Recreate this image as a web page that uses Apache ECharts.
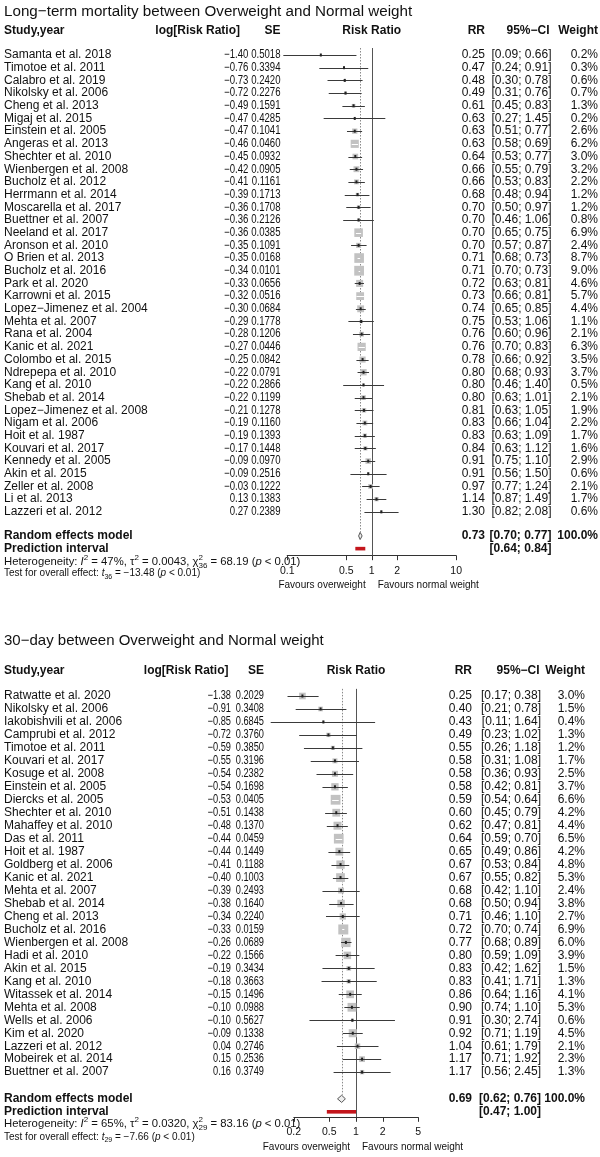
<!DOCTYPE html>
<html><head><meta charset="utf-8">
<script src="https://cdn.jsdelivr.net/npm/echarts@6/dist/echarts.min.js"></script>
<style>html,body{margin:0;padding:0;background:#fff}#c{width:600px;height:1157px}</style>
</head><body><div id="c"></div>
<script>
// ---------- DATA: panel 1 (long-term mortality) ----------
const title1 = 'Long\u2212term mortality between Overweight and Normal weight';
const studies1 = ['Samanta et al. 2018','Timotoe et al. 2011','Calabro et al. 2019','Nikolsky et al. 2006','Cheng et al. 2013','Migaj et al. 2015','Einstein et al. 2005','Angeras et al. 2013','Shechter et al. 2010','Wienbergen et al. 2008','Bucholz et al. 2012','Herrmann et al. 2014','Moscarella et al. 2017','Buettner et al. 2007','Neeland et al. 2017','Aronson et al. 2010','O Brien et al. 2013','Bucholz et al. 2016','Park et al. 2020','Karrowni et al. 2015','Lopez\u2212Jimenez et al. 2004','Mehta et al. 2007','Rana et al. 2004','Kanic et al. 2021','Colombo et al. 2015','Ndrepepa et al. 2010','Kang et al. 2010','Shebab et al. 2014','Lopez\u2212Jimenez et al. 2008','Nigam et al. 2006','Hoit et al. 1987','Kouvari et al. 2017','Kennedy et al. 2005','Akin et al. 2015','Zeller et al. 2008','Li et al. 2013','Lazzeri et al. 2012'];
const logRR1 = [-1.40,-0.76,-0.73,-0.72,-0.49,-0.47,-0.47,-0.46,-0.45,-0.42,-0.41,-0.39,-0.36,-0.36,-0.36,-0.35,-0.35,-0.34,-0.33,-0.32,-0.30,-0.29,-0.28,-0.27,-0.25,-0.22,-0.22,-0.22,-0.21,-0.19,-0.19,-0.17,-0.09,-0.09,-0.03,0.13,0.27];
const se1 = [0.5018,0.3394,0.2420,0.2276,0.1591,0.4285,0.1041,0.0460,0.0932,0.0905,0.1161,0.1713,0.1708,0.2126,0.0385,0.1091,0.0168,0.0101,0.0656,0.0516,0.0684,0.1778,0.1206,0.0446,0.0842,0.0791,0.2866,0.1199,0.1278,0.1160,0.1393,0.1448,0.0970,0.2516,0.1222,0.1383,0.2389];
const rr1 = [0.25,0.47,0.48,0.49,0.61,0.63,0.63,0.63,0.64,0.66,0.66,0.68,0.70,0.70,0.70,0.70,0.71,0.71,0.72,0.73,0.74,0.75,0.76,0.76,0.78,0.80,0.80,0.80,0.81,0.83,0.83,0.84,0.91,0.91,0.97,1.14,1.30];
const lo1 = [0.09,0.24,0.30,0.31,0.45,0.27,0.51,0.58,0.53,0.55,0.53,0.48,0.50,0.46,0.65,0.57,0.68,0.70,0.63,0.66,0.65,0.53,0.60,0.70,0.66,0.68,0.46,0.63,0.63,0.66,0.63,0.63,0.75,0.56,0.77,0.87,0.82];
const hi1 = [0.66,0.91,0.78,0.76,0.83,1.45,0.77,0.69,0.77,0.79,0.83,0.94,0.97,1.06,0.75,0.87,0.73,0.73,0.81,0.81,0.85,1.06,0.96,0.83,0.92,0.93,1.40,1.01,1.05,1.04,1.09,1.12,1.10,1.50,1.24,1.49,2.08];
const w1 = [0.2,0.3,0.6,0.7,1.3,0.2,2.6,6.2,3.0,3.2,2.2,1.2,1.2,0.8,6.9,2.4,8.7,9.0,4.6,5.7,4.4,1.1,2.1,6.3,3.5,3.7,0.5,2.1,1.9,2.2,1.7,1.6,2.9,0.6,2.1,1.7,0.6];
const re1 = [0.73, 0.70, 0.77];      // estimate, lower, upper
const pi1 = [0.64, 0.84];            // prediction interval
const het1 = ['47%', '0.0043', '36', '68.19', '\u221213.48']; // I2, tau2, df, chi2, t
const ticks1 = [0.1, 0.5, 1, 2, 10];
const tickLabels1 = ['0.1', '0.5', '1', '2', '10'];

// ---------- DATA: panel 2 (30-day) ----------
const title2 = '30\u2212day between Overweight and Normal weight';
const studies2 = ['Ratwatte et al. 2020','Nikolsky et al. 2006','Iakobishvili et al. 2006','Camprubi et al. 2012','Timotoe et al. 2011','Kouvari et al. 2017','Kosuge et al. 2008','Einstein et al. 2005','Diercks et al. 2005','Shechter et al. 2010','Mahaffey et al. 2010','Das et al. 2011','Hoit et al. 1987','Goldberg et al. 2006','Kanic et al. 2021','Mehta et al. 2007','Shebab et al. 2014','Cheng et al. 2013','Bucholz et al. 2016','Wienbergen et al. 2008','Hadi et al. 2010','Akin et al. 2015','Kang et al. 2010','Witassek et al. 2014','Mehta et al. 2008','Wells et al. 2006','Kim et al. 2020','Lazzeri et al. 2012','Mobeirek et al. 2014','Buettner et al. 2007'];
const logRR2 = [-1.38,-0.91,-0.85,-0.72,-0.59,-0.55,-0.54,-0.54,-0.53,-0.51,-0.48,-0.44,-0.44,-0.41,-0.40,-0.39,-0.38,-0.34,-0.33,-0.26,-0.22,-0.19,-0.18,-0.15,-0.10,-0.10,-0.09,0.04,0.15,0.16];
const se2 = [0.2029,0.3408,0.6845,0.3760,0.3850,0.3196,0.2382,0.1698,0.0405,0.1438,0.1370,0.0459,0.1449,0.1188,0.1003,0.2493,0.1640,0.2240,0.0159,0.0689,0.1566,0.3434,0.3663,0.1496,0.0988,0.5627,0.1338,0.2746,0.2536,0.3749];
const rr2 = [0.25,0.40,0.43,0.49,0.55,0.58,0.58,0.58,0.59,0.60,0.62,0.64,0.65,0.67,0.67,0.68,0.68,0.71,0.72,0.77,0.80,0.83,0.83,0.86,0.90,0.91,0.92,1.04,1.17,1.17];
const lo2 = [0.17,0.21,0.11,0.23,0.26,0.31,0.36,0.42,0.54,0.45,0.47,0.59,0.49,0.53,0.55,0.42,0.50,0.46,0.70,0.68,0.59,0.42,0.41,0.64,0.74,0.30,0.71,0.61,0.71,0.56];
const hi2 = [0.38,0.78,1.64,1.02,1.18,1.08,0.93,0.81,0.64,0.79,0.81,0.70,0.86,0.84,0.82,1.10,0.94,1.10,0.74,0.89,1.09,1.62,1.71,1.16,1.10,2.74,1.19,1.79,1.92,2.45];
const w2 = [3.0,1.5,0.4,1.3,1.2,1.7,2.5,3.7,6.6,4.2,4.4,6.5,4.2,4.8,5.3,2.4,3.8,2.7,6.9,6.0,3.9,1.5,1.3,4.1,5.3,0.6,4.5,2.1,2.3,1.3];
const re2 = [0.69, 0.62, 0.76];
const pi2 = [0.47, 1.00];
const het2 = ['65%', '0.0320', '29', '83.16', '\u22127.66'];
const ticks2 = [0.2, 0.5, 1, 2, 5];
const tickLabels2 = ['0.2', '0.5', '1', '2', '5'];

const headers = ['Study,year', 'log[Risk Ratio]', 'SE', 'Risk Ratio', 'RR', '95%\u2212CI', 'Weight'];
const favours = ['Favours overweight', 'Favours normal weight'];

// ---------- LAYOUT ----------
const FONT = '"Liberation Sans", Arial, Helvetica, sans-serif';
const INK = '#111';
const L = [
  {xMin:0.1, xMax:10, left:287.2, width:169, row0:55, rowH:12.69, axisY:555.7, titleY:12, headY:31,
   cols:{logHead:240, log:248.4, se:280.5, rr:485, ci:551.5, ciHead:549.5, w:598}, numScale:0.80,
   reRow:37.9, piRow:38.9, hetY:562, testY:573.5, square:9.8, titleSize:15.2},
  {xMin:0.2, xMax:5, left:293.8, width:124.4, row0:696, rowH:12.97, axisY:1117.3, titleY:641, headY:670.7,
   cols:{logHead:228.5, log:231, se:264, rr:472, ci:541, ciHead:539.6, w:585}, numScale:0.77,
   reRow:31.06, piRow:32.06, hetY:1124, testY:1137, square:10, titleSize:15}
];
const P = [
  {title:title1, studies:studies1, logRR:logRR1, se:se1, rr:rr1, lo:lo1, hi:hi1, w:w1, re:re1, pi:pi1, het:het1, ticks:ticks1, tickLabels:tickLabels1},
  {title:title2, studies:studies2, logRR:logRR2, se:se2, rr:rr2, lo:lo2, hi:hi2, w:w2, re:re2, pi:pi2, het:het2, ticks:ticks2, tickLabels:tickLabels2}
];

function fmtSigned(v) { return (v < 0 ? '\u2212' : '') + Math.abs(v).toFixed(2); }
function T(x, y, s, o) {
  o = o || {};
  const al = o.align || 'left';
  return { type:'text', x:x, y:y, silent:true, z2:10, scaleX:o.sx || 1, originX:0,
    style:{ text:s, fontFamily:FONT, fontSize:o.size || 12, fontWeight:o.bold ? 'bold' : 'normal',
      fill:o.color || INK, align:al, textAlign:al, verticalAlign:'middle', textVerticalAlign:'middle', rich:o.rich } };
}

const series = [];
const graphic = [];

P.forEach(function (d, g) {
  const lay = L[g];
  const yMax = (lay.axisY - lay.row0) / lay.rowH;
  const wMax = Math.max.apply(null, d.w);
  const rows = d.studies.map(function (s, i) { return [d.rr[i], i, d.lo[i], d.hi[i], d.w[i]]; });

  // reference lines: solid at 1, dashed at pooled estimate
  series.push({ type:'custom', xAxisIndex:g, yAxisIndex:g, clip:false, silent:true, encode:{x:0, y:1},
    data:[[1, -0.55, yMax, 0], [d.re[0], -0.55, lay.reRow - 0.32, 1]],
    renderItem:function (params, api) {
      const a = api.coord([api.value(0), api.value(1)]), b = api.coord([api.value(0), api.value(2)]);
      const x = Math.round(a[0]) + 0.5;
      const dashed = api.value(3) === 1;
      return { type:'line', shape:{x1:x, y1:a[1], x2:x, y2:b[1]},
        style:{ stroke: dashed ? '#8a8a8a' : '#555', lineWidth:1, lineDash: dashed ? [1.5, 1.5] : null } };
    } });

  // study markers
  series.push({ type:'custom', xAxisIndex:g, yAxisIndex:g, clip:false, silent:true, encode:{x:0, y:1}, z:3,
    data:rows,
    renderItem:function (params, api) {
      const row = api.value(1);
      const p = api.coord([api.value(0), row]);
      const a = api.coord([api.value(2), row]);
      const b = api.coord([api.value(3), row]);
      const s = lay.square * Math.sqrt(api.value(4) / wMax);
      const y = Math.round(p[1]) + 0.5;
      const inside = (b[0] - a[0]) <= s;
      const ch = [
        { type:'rect', shape:{x:p[0] - s / 2, y:p[1] - s / 2, width:s, height:s}, style:{fill:'#c2c2c2'} },
        { type:'line', shape:{x1:a[0], y1:y, x2:b[0], y2:y}, style:{stroke: inside ? '#ffffff' : '#3a3a3a', lineWidth:1} }
      ];
      if (!inside) ch.push({ type:'rect', shape:{x:p[0] - 1, y:p[1] - 1.5, width:2, height:3}, style:{fill:'#222'} });
      return { type:'group', children:ch };
    } });

  // study text columns
  series.push({ type:'custom', xAxisIndex:g, yAxisIndex:g, clip:false, silent:true, encode:{x:0, y:1},
    data:rows,
    renderItem:function (params, api) {
      const i = params.dataIndex;
      const y = api.coord([1, api.value(1)])[1];
      const c = lay.cols;
      return { type:'group', children:[
        T(4, y, d.studies[i]),
        T(c.log, y, fmtSigned(d.logRR[i]), {align:'right', sx:lay.numScale}),
        T(c.se, y, d.se[i].toFixed(4), {align:'right', sx:lay.numScale}),
        T(c.rr, y, d.rr[i].toFixed(2), {align:'right'}),
        T(c.ci, y, '[' + d.lo[i].toFixed(2) + '; ' + d.hi[i].toFixed(2) + ']', {align:'right'}),
        T(c.w, y, d.w[i].toFixed(1) + '%', {align:'right'})
      ] };
    } });

  // pooled diamond + prediction interval + summary text
  series.push({ type:'custom', xAxisIndex:g, yAxisIndex:g, clip:false, silent:true, encode:{x:0, y:1}, z:4,
    data:[[d.re[0], lay.reRow, d.re[1], d.re[2], d.pi[0], d.pi[1], lay.piRow]],
    renderItem:function (params, api) {
      const r = api.value(1), pr = api.value(6);
      const e = api.coord([api.value(0), r]), a = api.coord([api.value(2), r]), b = api.coord([api.value(3), r]);
      const pa = api.coord([api.value(4), pr]), pb = api.coord([api.value(5), pr]);
      const h = 3.6, c = lay.cols;
      return { type:'group', children:[
        { type:'polygon', shape:{points:[[a[0], e[1]], [e[0], e[1] - h], [b[0], e[1]], [e[0], e[1] + h]]},
          style:{fill:'#eeeeee', stroke:'#555', lineWidth:1} },
        { type:'rect', shape:{x:pa[0], y:pa[1] - 1.8, width:pb[0] - pa[0], height:3.6}, style:{fill:'#c4161c'} },
        T(4, e[1], 'Random effects model', {bold:true}),
        T(c.rr, e[1], d.re[0].toFixed(2), {align:'right', bold:true}),
        T(c.ci, e[1], '[' + d.re[1].toFixed(2) + '; ' + d.re[2].toFixed(2) + ']', {align:'right', bold:true}),
        T(c.w, e[1], '100.0%', {align:'right', bold:true}),
        T(4, pa[1], 'Prediction interval', {bold:true}),
        T(c.ci, pa[1], '[' + d.pi[0].toFixed(2) + '; ' + d.pi[1].toFixed(2) + ']', {align:'right', bold:true})
      ] };
    } });

  // axis ticks + labels
  series.push({ type:'custom', xAxisIndex:g, yAxisIndex:g, clip:false, silent:true, encode:{x:0, y:1},
    data:d.ticks.map(function (t) { return [t, yMax]; }),
    renderItem:function (params, api) {
      const p = api.coord([api.value(0), api.value(1)]);
      const x = Math.round(p[0]) + 0.5;
      return { type:'group', children:[
        { type:'line', shape:{x1:x, y1:p[1], x2:x, y2:p[1] + 4.5}, style:{stroke:'#333', lineWidth:1} },
        T(p[0], p[1] + 15, d.tickLabels[params.dataIndex], {align:'center', size:10.5})
      ] };
    } });

  // column header "Risk Ratio" and favours labels, anchored to x = 1
  series.push({ type:'custom', xAxisIndex:g, yAxisIndex:g, clip:false, silent:true, encode:{x:0, y:1},
    data:[[1, yMax]],
    renderItem:function (params, api) {
      const p = api.coord([1, api.value(1)]);
      return { type:'group', children:[
        T(p[0], lay.headY, headers[3], {align:'center', bold:true}),
        T(p[0] - 6, p[1] + 30, favours[0], {align:'right', size:10}),
        T(p[0] + 6, p[1] + 30, favours[1], {align:'left', size:10})
      ] };
    } });

  // titles, headers, heterogeneity text
  const c = lay.cols;
  graphic.push(T(4, lay.titleY, d.title, {size:lay.titleSize}));
  graphic.push(T(4, lay.headY, headers[0], {bold:true}));
  graphic.push(T(c.logHead, lay.headY, headers[1], {bold:true, align:'right'}));
  graphic.push(T(c.se, lay.headY, headers[2], {bold:true, align:'right'}));
  graphic.push(T(c.rr, lay.headY, headers[4], {bold:true, align:'right'}));
  graphic.push(T(c.ciHead, lay.headY, headers[5], {bold:true, align:'right'}));
  graphic.push(T(c.w, lay.headY, headers[6], {bold:true, align:'right'}));

  const richH = {
    n:{fontSize:11.3, fontFamily:FONT, fill:INK, lineHeight:16},
    it:{fontSize:11.3, fontFamily:FONT, fill:INK, fontStyle:'italic', lineHeight:16},
    sup:{fontSize:8, fontFamily:FONT, fill:INK, verticalAlign:'top', lineHeight:9},
    sup0:{fontSize:8, fontFamily:FONT, fill:INK, verticalAlign:'top', lineHeight:9, width:0},
    sub:{fontSize:8, fontFamily:FONT, fill:INK, verticalAlign:'bottom', lineHeight:9}
  };
  const richT = {
    n:{fontSize:10, fontFamily:FONT, fill:INK, lineHeight:14},
    it:{fontSize:10, fontFamily:FONT, fill:INK, fontStyle:'italic', lineHeight:14},
    sub:{fontSize:7, fontFamily:FONT, fill:INK, verticalAlign:'bottom', lineHeight:8}
  };
  const h = d.het;
  graphic.push(T(4, lay.hetY,
    '{n|Heterogeneity: }{it|I}{sup|2}{n| = ' + h[0] + ', \u03c4}{sup|2}{n| = ' + h[1] + ', \u03c7}{sup0|2}{sub|' + h[2] + '}{n| = ' + h[3] + ' (}{it|p}{n| < 0.01)}',
    {rich:richH, size:11.3}));
  graphic.push(T(4, lay.testY,
    '{n|Test for overall effect: }{it|t}{sub|' + h[2] + '}{n| = ' + h[4] + ' (}{it|p}{n| < 0.01)}',
    {rich:richT, size:10}));
});

const chart = echarts.init(document.getElementById('c'), null, {renderer:'canvas'});
chart.setOption({
  animation:false,
  backgroundColor:'#ffffff',
  grid:L.map(function (l) {
    const top = l.row0 - l.rowH;
    return {left:l.left, width:l.width, top:top, height:l.axisY - top, containLabel:false, outerBoundsMode:'none'};
  }),
  xAxis:L.map(function (l, i) {
    return {gridIndex:i, type:'log', logBase:10, min:l.xMin, max:l.xMax, position:'bottom',
      axisLine:{show:true, onZero:false, lineStyle:{color:'#333', width:1}},
      axisTick:{show:false}, axisLabel:{show:false}, splitLine:{show:false}};
  }),
  yAxis:L.map(function (l, i) {
    return {gridIndex:i, type:'value', inverse:true, min:-1, max:(l.axisY - l.row0) / l.rowH, show:false};
  }),
  series:series,
  graphic:graphic
});
</script></body></html>
